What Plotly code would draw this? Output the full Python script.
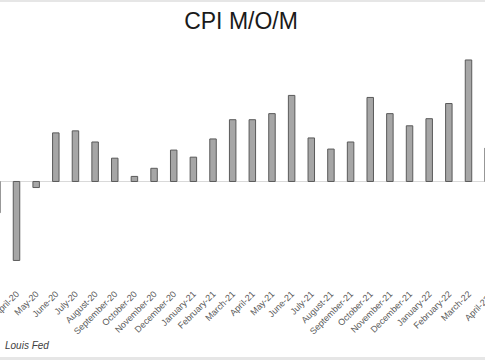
import plotly.graph_objects as go

months = ["March-20", "April-20", "May-20", "June-20", "July-20", "August-20",
          "September-20", "October-20", "November-20", "December-20",
          "January-21", "February-21", "March-21", "April-21", "May-21", "June-21",
          "July-21", "August-21", "September-21", "October-21", "November-21",
          "December-21", "January-22", "February-22", "March-22", "April-22"]
cpi_mom = [-0.31, -0.78, -0.06, 0.48, 0.50, 0.39, 0.23, 0.05, 0.13, 0.31,
           0.24, 0.42, 0.61, 0.61, 0.67, 0.85, 0.43, 0.32, 0.39, 0.83, 0.67,
           0.55, 0.62, 0.77, 1.20, 0.33]
source_text = "Louis Fed"

W, H = 485, 360
mt, mb = 45, 78
ph = H - mt - mb
xr = [0.16, 24.84]
fig = go.Figure()
fig.add_trace(go.Bar(
    x=months, y=cpi_mom, width=0.33,
    marker=dict(color="#a6a6a6", line=dict(color="#5a5a5a", width=1)),
))

last_idx = len(months) - 1
fig.update_layout(
    width=W, height=H,
    margin=dict(l=0, r=0, t=mt, b=mb, autoexpand=False),
    paper_bgcolor="white", plot_bgcolor="white",
    showlegend=False,
    font=dict(family="Liberation Sans, Arial, sans-serif", color="#595959"),
    title=dict(text="CPI M/O/M", x=0.497, xanchor="center",
               y=1 - 21 / H, yanchor="middle", automargin=False,
               font=dict(size=23, color="#1a1a1a")),
    xaxis=dict(type="category", range=xr, showgrid=False,
               showline=False, ticks="", tickangle=-45, automargin=False,
               ticklabelstandoff=4,
               tickfont=dict(size=9, color="#595959")),
    yaxis=dict(range=[-0.993, 1.348], showgrid=False, showticklabels=False,
               zeroline=True, zerolinecolor="#d9d9d9", zerolinewidth=1,
               showline=False, automargin=False),
    annotations=[
        dict(text="<i>" + source_text + "</i>", xref="paper", yref="paper",
             x=3 / W, y=-(345 - (H - mb)) / ph,
             xanchor="left", yanchor="middle", showarrow=False,
             font=dict(size=10, color="#404040")),
        dict(text=months[-1], xref="paper", yref="paper",
             x=(last_idx - xr[0]) / (xr[1] - xr[0]),
             y=0, yshift=-9, xshift=7, xanchor="right", yanchor="top",
             textangle=-45, showarrow=False,
             font=dict(size=9, color="#595959")),
    ],
    shapes=[
        dict(type="rect", xref="paper", yref="paper", x0=0, x1=1,
             y0=1 + (mt - 2) / ph, y1=1 + mt / ph,
             fillcolor="#e6e6e6", line=dict(width=0)),
        dict(type="rect", xref="paper", yref="paper", x0=0, x1=1,
             y0=-(H - (H - mb)) / ph, y1=-(357 - (H - mb)) / ph,
             fillcolor="#e6e6e6", line=dict(width=0)),
    ],
)

fig.write_html(
    "out.html",
    config={"displayModeBar": False},
    post_script="document.body.style.margin='0';document.body.style.padding='0';"
                "document.body.style.overflow='hidden';",
)
